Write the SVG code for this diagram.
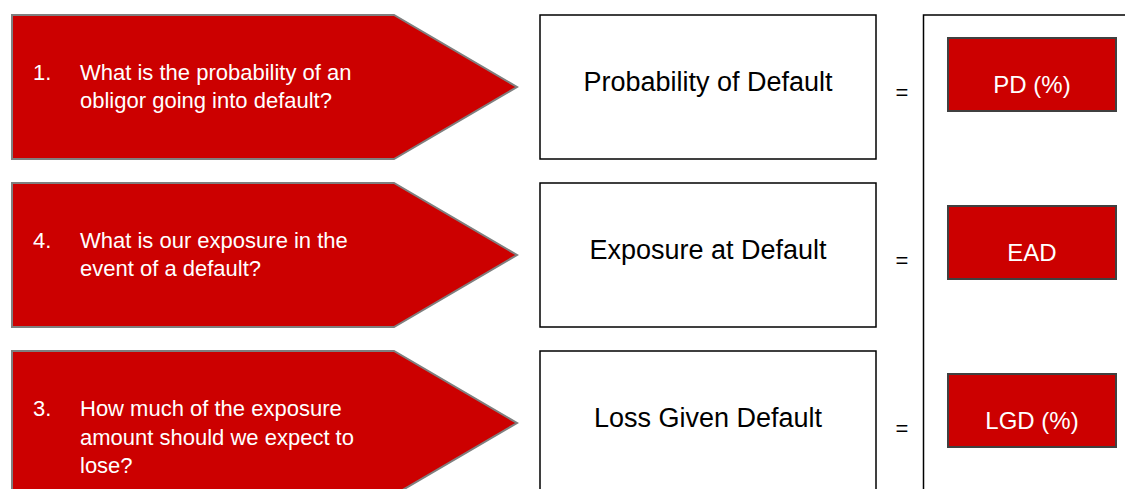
<svg xmlns="http://www.w3.org/2000/svg" width="1125" height="489" viewBox="0 0 1125 489">
<style>
.arrow{fill:#cc0000;stroke:#7f7f7f;stroke-width:2}
.box{fill:#ffffff;stroke:#000000;stroke-width:1.5}
.red{fill:#cc0000;stroke:#404040;stroke-width:2}
.at{font-family:"Liberation Sans",Arial,sans-serif;font-size:22px;fill:#ffffff}
.bt{font-family:"Liberation Sans",Arial,sans-serif;font-size:27px;fill:#000000;text-anchor:middle}
.rt{font-family:"Liberation Sans",Arial,sans-serif;font-size:24px;fill:#ffffff;text-anchor:middle}
.eq{font-family:"Liberation Sans",Arial,sans-serif;font-size:22px;fill:#000000;text-anchor:middle}
</style>
<rect width="1125" height="489" fill="#ffffff"/>
<g id="q1">
<polygon class="arrow" points="12,15 394,15 517,87 394,159 12,159"/>
<text class="at" x="33" y="80">1.</text>
<text class="at" x="80" y="80">What is the probability of an</text>
<text class="at" x="80" y="108">obligor going into default?</text>
</g>
<g id="q4">
<polygon class="arrow" points="12,183 394,183 517,255 394,327 12,327"/>
<text class="at" x="33" y="248">4.</text>
<text class="at" x="80" y="248">What is our exposure in the</text>
<text class="at" x="80" y="276">event of a default?</text>
</g>
<g id="q3">
<polygon class="arrow" points="12,351 394,351 517,423 394,495 12,495"/>
<text class="at" x="33" y="416">3.</text>
<text class="at" x="80" y="416">How much of the exposure</text>
<text class="at" x="80" y="445">amount should we expect to</text>
<text class="at" x="80" y="473">lose?</text>
</g>
<g id="pd-box">
<rect class="box" x="540" y="15" width="336" height="144"/>
<text class="bt" x="708" y="91">Probability of Default</text>
</g>
<g id="ead-box">
<rect class="box" x="540" y="183" width="336" height="144"/>
<text class="bt" x="708" y="259">Exposure at Default</text>
</g>
<g id="lgd-box">
<rect class="box" x="540" y="351" width="336" height="160"/>
<text class="bt" x="708" y="427">Loss Given Default</text>
</g>
<g id="equals">
<text class="eq" x="902" y="100">=</text>
<text class="eq" x="902" y="268">=</text>
<text class="eq" x="902" y="436">=</text>
</g>
<g id="result-frame">
<rect class="box" x="923.5" y="15" width="260" height="520"/>
</g>
<g id="pd">
<rect class="red" x="948" y="38" width="168" height="73"/>
<text class="rt" x="1032" y="93">PD (%)</text>
</g>
<g id="ead">
<rect class="red" x="948" y="206" width="168" height="73"/>
<text class="rt" x="1032" y="261">EAD</text>
</g>
<g id="lgd">
<rect class="red" x="948" y="374" width="168" height="73"/>
<text class="rt" x="1032" y="429">LGD (%)</text>
</g>
</svg>
